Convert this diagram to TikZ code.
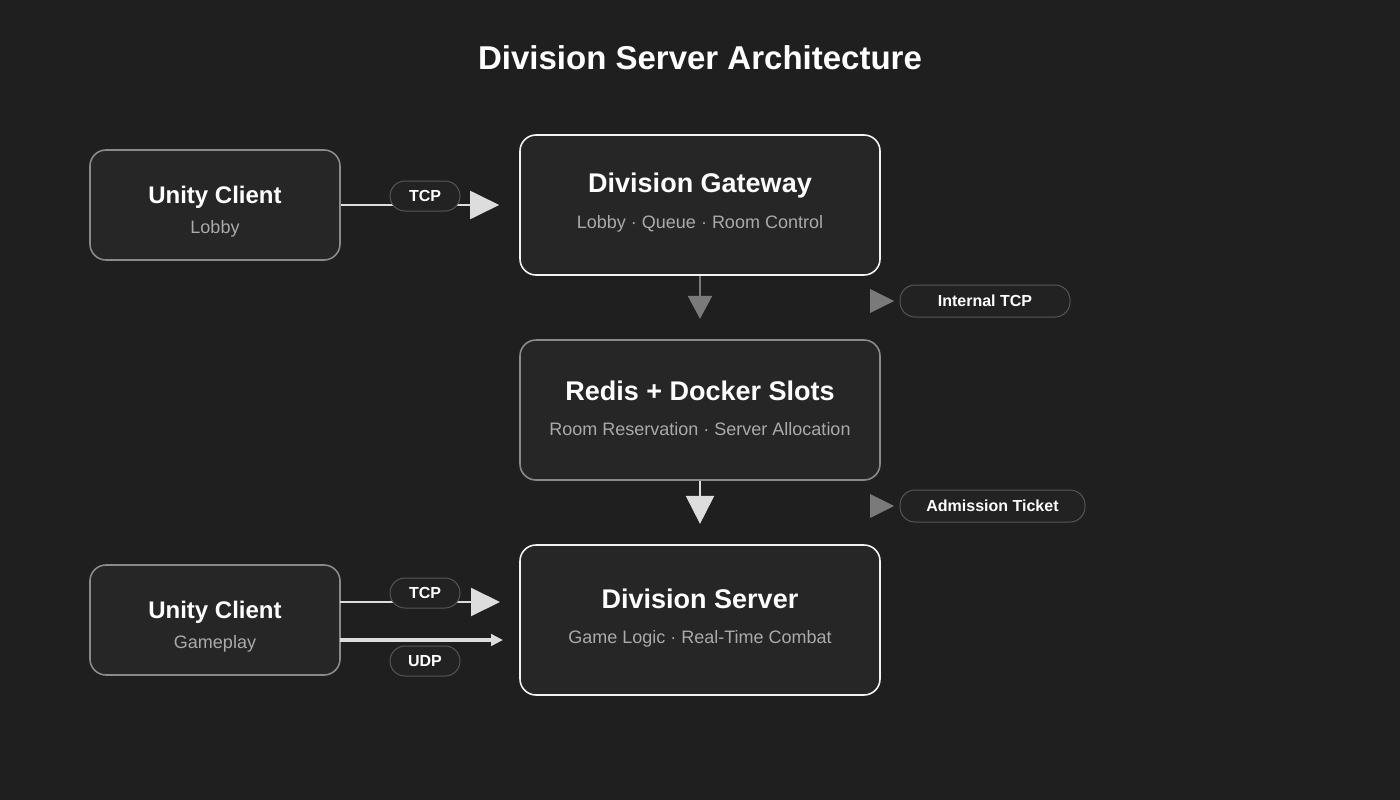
\documentclass[tikz,border=0pt]{standalone}
\usepackage{fontspec}
\setmainfont{Liberation Sans}
\usetikzlibrary{arrows.meta,shapes.geometric}
\definecolor{bg}{HTML}{1F1F1F}
\definecolor{boxf}{HTML}{262626}
\definecolor{dimb}{HTML}{8A8A8A}
\definecolor{brt}{HTML}{F2F2F2}
\definecolor{sub}{HTML}{AAAAAA}
\definecolor{pillf}{HTML}{222222}
\definecolor{pillb}{HTML}{555555}
\definecolor{tipl}{HTML}{DDDDDD}
\definecolor{tipg}{HTML}{7A7A7A}
\begin{document}
\begin{tikzpicture}[x=1pt,y=-1pt,
 box/.style={draw=#1,line width=1.6pt,fill=boxf,rounded corners=16pt,inner sep=0pt},
 pill/.style={draw=pillb,line width=1pt,fill=pillf,rounded corners=15pt,minimum height=30pt,inner sep=0pt,text=white,font=\bfseries\fontsize{16}{16}\selectfont},
 ttl/.style={text=white,font=\bfseries\fontsize{24}{24}\selectfont},
 stl/.style={text=sub,font=\fontsize{18}{18}\selectfont},
 conn/.style={draw=tipl,line width=2pt,shorten >=20pt}]
\fill[bg] (0,0) rectangle (1400,800);
\useasboundingbox (0,0) rectangle (1400,800);
\node[text=white,font=\bfseries\fontsize{33}{33}\selectfont] (title) at (700,58) {Division Server Architecture};
% boxes
\node[box=dimb,minimum width=250pt,minimum height=110pt] (lobby) at (215,205) {};
\node[ttl] (lobbyt) at (215,197) {Unity Client};
\node[stl] (lobbys) at (215,229) {Lobby};
\node[box=brt,minimum width=360pt,minimum height=140pt] (gw) at (700,205) {};
\node[ttl,font=\bfseries\fontsize{27}{27}\selectfont] (gwt) at (700,186) {Division Gateway};
\node[stl] (gws) at (700,224) {Lobby · Queue · Room Control};
\node[box=dimb,minimum width=360pt,minimum height=140pt] (rd) at (700,410) {};
\node[ttl,font=\bfseries\fontsize{27}{27}\selectfont] (rdt) at (700,391) {Redis + Docker Slots};
\node[stl] (rds) at (700,429) {Room Reservation · Server Allocation};
\node[box=brt,minimum width=360pt,minimum height=150pt] (srv) at (700,620) {};
\node[ttl,font=\bfseries\fontsize{27}{27}\selectfont] (srvt) at (700,599) {Division Server};
\node[stl] (srvs) at (700,639) {Game Logic · Real-Time Combat};
\node[box=dimb,minimum width=250pt,minimum height=110pt] (gp) at (215,620) {};
\node[ttl] (gpt) at (215,612) {Unity Client};
\node[stl] (gps) at (215,644) {Gameplay};
% connectors
\draw[conn,-{Triangle[length=29pt,width=28pt,fill=tipl]}] (lobby) -- (gw);
\coordinate (a1) at (340,602); \coordinate (a2) at (520,602);
\draw[conn,-{Triangle[length=29pt,width=28pt,fill=tipl]}] (a1) -- (a2);
\coordinate (b1) at (340,640); \coordinate (b2) at (520,640);
\draw[conn,line width=4pt,shorten >=17pt,-{Triangle[length=12pt,width=11.5pt,fill=tipl]}] (b1) -- (b2);
\draw[draw=tipg,line width=2pt,shorten >=-43pt,-{Triangle[length=23pt,width=24pt,fill=tipg]}] (gw.south) -- ++(0,0.1);
\draw[draw=tipl,line width=2pt,shorten >=-43pt,-{Triangle[length=28pt,width=28pt,fill=tipl]}] (rd.south) -- ++(0,0.1);
% labels
\node[pill,minimum width=70pt] (l1) at (425,196) {TCP};
\node[pill,minimum width=70pt] (l2) at (425,593) {TCP};
\node[pill,minimum width=70pt] (l3) at (425,661) {UDP};
\node[pill,minimum width=170pt,minimum height=32pt] (l4) at (985,301) {Internal TCP};
\node[pill,minimum width=185pt,minimum height=32pt] (l5) at (992.5,506) {Admission Ticket};
\fill[tipg] (870,289) -- (894,301) -- (870,313) -- cycle;
\fill[tipg] (870,494) -- (894,506) -- (870,518) -- cycle;
\end{tikzpicture}
\end{document}
